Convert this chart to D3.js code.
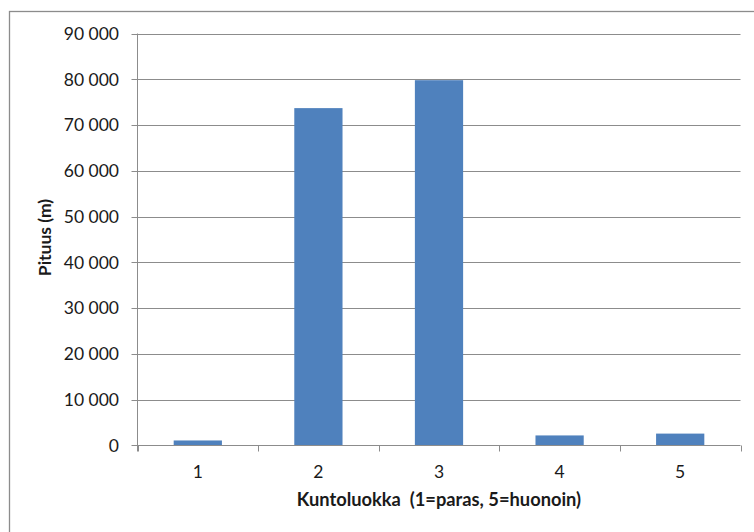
<!DOCTYPE html>
<html>
<head>
<meta charset="utf-8">
<script src="https://cdn.jsdelivr.net/npm/d3@7/dist/d3.min.js"></script>
<style>
  html, body { margin: 0; padding: 0; background: #fff; }
  svg { display: block; font-family: Lato, "Open Sans", sans-serif; }
</style>
</head>
<body>
<svg id="chart" width="754" height="532"></svg>
<script>
// Road length by condition class
const categories = ["1", "2", "3", "4", "5"];
const lengths = [1100, 73700, 79800, 2200, 2600];
const yTicks = [0, 10000, 20000, 30000, 40000, 50000, 60000, 70000, 80000, 90000];
const xTitle = "Kuntoluokka  (1=paras, 5=huonoin)";
const yTitle = "Pituus (m)";

const svg = d3.select("#chart");
const plot = { left: 137.5, right: 740.5, top: 33.5, bottom: 445.5 };

// outer chart frame (continues past the right and bottom edges)
svg.append("rect")
  .attr("x", 9.5).attr("y", 11.5)
  .attr("width", 800).attr("height", 600)
  .attr("fill", "none").attr("stroke", "#8c8c8c").attr("stroke-width", 1.3);

const x = d3.scaleBand().domain(categories)
  .range([plot.left, plot.right]).paddingInner(0.6).paddingOuter(0.3);
const y = d3.scaleLinear().domain([0, 90000]).range([plot.bottom, plot.top]);

const fmt = v => d3.format(",")(v).replace(/,/g, " ");

// horizontal gridlines with their short outside ticks
svg.append("g").selectAll("line").data(yTicks.filter(t => t > 0)).join("line")
  .attr("x1", plot.left - 6).attr("x2", plot.right)
  .attr("y1", d => Math.round(y(d)) + 0.5).attr("y2", d => Math.round(y(d)) + 0.5)
  .attr("stroke", "#8c8c8c").attr("stroke-width", 1);

// y tick labels
svg.append("g").selectAll("text").data(yTicks).join("text")
  .attr("x", 119).attr("y", d => y(d))
  .attr("dy", "0.36em")
  .attr("text-anchor", "end")
  .attr("font-size", 17.5)
  .attr("fill", "#1a1a1a")
  .text(fmt);

// bars
svg.append("g").selectAll("rect").data(categories).join("rect")
  .attr("x", d => x(d))
  .attr("width", x.bandwidth())
  .attr("y", (d, i) => y(lengths[i]))
  .attr("height", (d, i) => y(0) - y(lengths[i]))
  .attr("fill", "#4f81bd");

// y axis line with tick at zero
svg.append("line")
  .attr("x1", plot.left).attr("x2", plot.left)
  .attr("y1", plot.top).attr("y2", plot.bottom + 6)
  .attr("stroke", "#8c8c8c");
svg.append("line")
  .attr("x1", plot.left - 6).attr("x2", plot.right)
  .attr("y1", plot.bottom).attr("y2", plot.bottom)
  .attr("stroke", "#8c8c8c");

// category boundary ticks on the x axis
const bounds = d3.range(categories.length + 1).map(i => plot.left + (plot.right - plot.left) * i / categories.length);
svg.append("g").selectAll("line").data(bounds).join("line")
  .attr("x1", d => Math.round(d) + 0.5).attr("x2", d => Math.round(d) + 0.5)
  .attr("y1", plot.bottom).attr("y2", plot.bottom + 6)
  .attr("stroke", "#8c8c8c");

// category labels
svg.append("g").selectAll("text").data(categories).join("text")
  .attr("x", d => x(d) + x.bandwidth() / 2)
  .attr("y", 478)
  .attr("text-anchor", "middle")
  .attr("font-size", 17.5)
  .attr("fill", "#1a1a1a")
  .text(d => d);

// axis titles
svg.append("text")
  .attr("x", (plot.left + plot.right) / 2).attr("y", 506)
  .attr("text-anchor", "middle")
  .attr("font-size", 18.3).attr("font-weight", "bold")
  .attr("fill", "#1a1a1a")
  .attr("xml:space", "preserve")
  .style("white-space", "pre")
  .text(xTitle);

svg.append("text")
  .attr("transform", `translate(51, ${(plot.top + plot.bottom) / 2 - 2}) rotate(-90)`)
  .attr("text-anchor", "middle")
  .attr("font-size", 17.5).attr("font-weight", "bold")
  .attr("fill", "#1a1a1a")
  .text(yTitle);
</script>
</body>
</html>
